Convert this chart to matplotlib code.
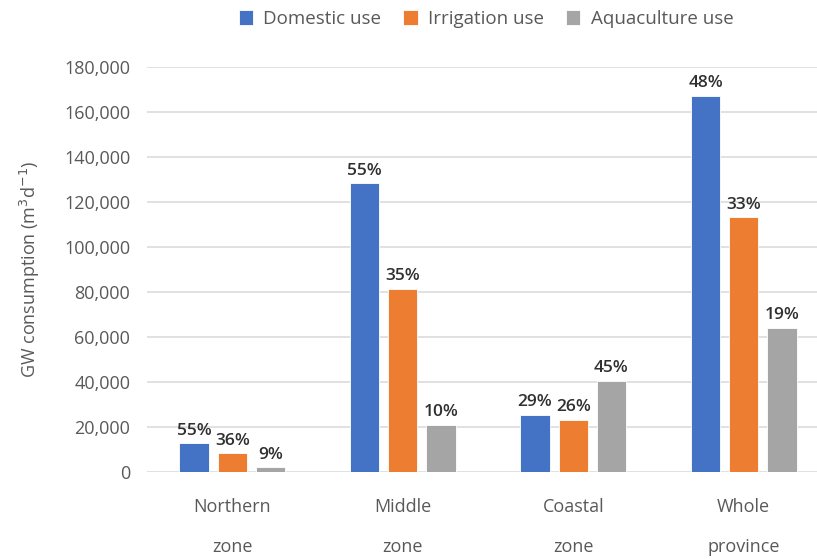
import matplotlib.pyplot as plt
import numpy as np

plt.rcParams['font.family'] = ['Open Sans', 'DejaVu Sans']

zones = ['Northern\nzone', 'Middle\nzone', 'Coastal\nzone', 'Whole\nprovince']
series = ['Domestic use', 'Irrigation use', 'Aquaculture use']
domestic = [12800, 128300, 25400, 167200]
irrigation = [8300, 81500, 23300, 113300]
aquaculture = [2100, 21000, 40600, 64200]
pct_domestic = ['55%', '55%', '29%', '48%']
pct_irrigation = ['36%', '35%', '26%', '33%']
pct_aquaculture = ['9%', '10%', '45%', '19%']
colors = ['#4472c4', '#ed7d31', '#a5a5a5']

fig = plt.figure(figsize=(8.17, 5.59), dpi=100)
ax = fig.add_axes([147 / 817, 87 / 559, 682 / 817, 405 / 559])

x = np.arange(len(zones))
width = 0.172
step = 0.224
values = [domestic, irrigation, aquaculture]
pcts = [pct_domestic, pct_irrigation, pct_aquaculture]

for i, (vals, lab, col, pc) in enumerate(zip(values, series, colors, pcts)):
    bars = ax.bar(x + (i - 1) * step, vals, width, color=col, label=lab,
                  edgecolor='white', linewidth=0.6, zorder=3)
    for b, p in zip(bars, pc):
        ax.text(b.get_x() + b.get_width() / 2, b.get_height() + 2000, p,
                ha='center', va='bottom', fontsize=12.5, color='#303030',
                fontweight='semibold')

ax.set_xlim(-0.5, 3.5)
ax.set_ylim(0, 180000)
ax.set_yticks(np.arange(0, 180001, 20000))
ax.yaxis.set_major_formatter(plt.FuncFormatter(lambda v, _: f'{int(v):,}'))
ax.set_xticks(x)
ax.set_xticklabels(zones, linespacing=2.55)
ax.tick_params(axis='both', length=0, labelsize=13, colors='#595959')
ax.tick_params(axis='x', pad=19)
ax.tick_params(axis='y', pad=12)
ax.grid(axis='y', color='#d9d9d9', linewidth=1.1, zorder=0)
for s in ax.spines.values():
    s.set_visible(False)

ax.set_ylabel('GW consumption (m$^3$d$^{-1}$)', fontsize=13, color='#595959',
              labelpad=16)

fig.legend(loc='center', bbox_to_anchor=(486 / 817, 1 - 19 / 559), ncol=3,
           frameon=False, fontsize=13.5, handlelength=0.75, handleheight=0.85,
           handletextpad=0.55, columnspacing=1.2, labelcolor='#595959')

fig.savefig('out.png', dpi=100)
